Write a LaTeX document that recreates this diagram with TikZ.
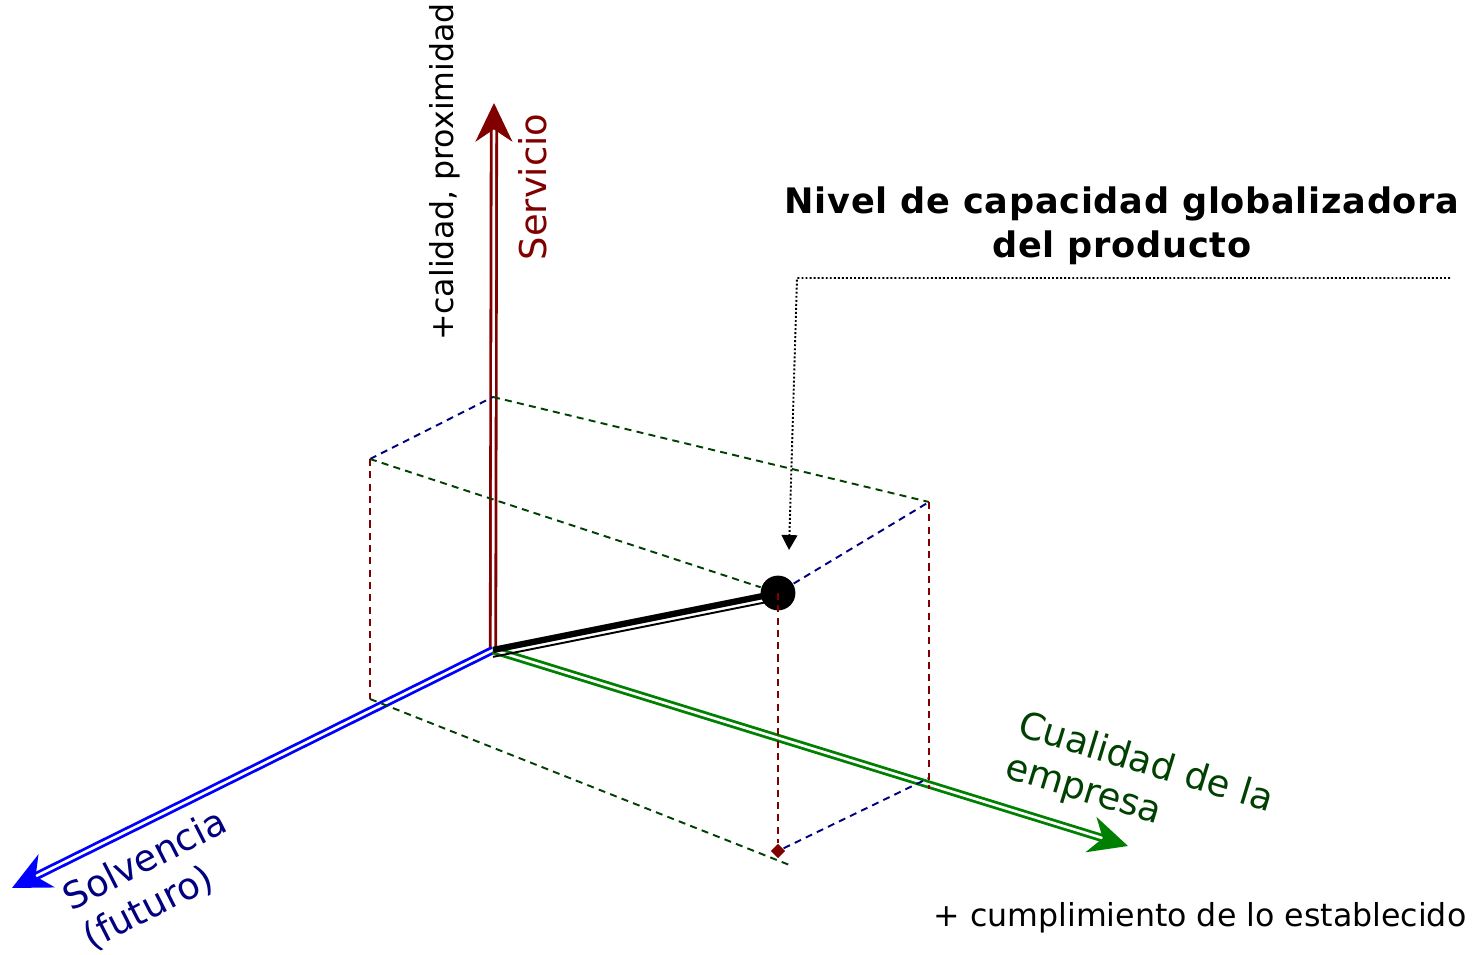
\documentclass[tikz,border=0pt]{standalone}
\usepackage{fontspec}
\setmainfont{DejaVu Sans}
\usepackage{tikz}
\usetikzlibrary{shapes, arrows.meta, positioning, calc}

\definecolor{ejerojo}{HTML}{800000}
\definecolor{ejeazul}{HTML}{0000FF}
\definecolor{ejeverde}{HTML}{008000}
\definecolor{marino}{HTML}{000080}
\definecolor{verdeosc}{HTML}{004000}

\begin{document}
\begin{tikzpicture} [x = 0.02cm, y = -0.02cm, line width = 1pt,
  eje/.style = {double = white, double distance = 1.5pt, line width = 1.6pt, -{Stealth[length = 22pt, width = 21pt, inset = 7pt]}},
  caja/.style = {dash pattern = on 4pt off 3pt, line width = 1.1pt},
  rotulo/.style = {font = \fontsize{21}{25}\selectfont, inner sep = 0pt},
  nota/.style = {dash pattern = on 1.1pt off 1.2pt, line width = 1.1pt, -{Triangle[length = 8.5pt, width = 9pt]}}]

\useasboundingbox (0,0) rectangle (1481,955);

\coordinate (o) at (493,650);
\coordinate (stop) at (494,103);
\coordinate (btip) at (12,888);
\coordinate (gtip) at (1128,846);

\coordinate (tb) at (493,397);
\coordinate (tl) at (370,459);
\coordinate (tr) at (929,502);
\coordinate (bl) at (370,699);
\coordinate (br) at (929,789);
\coordinate (brn) at (929,778);
\coordinate (bfe) at (792,866);
\coordinate (p) at (778,593);

\path (o) edge [eje, draw = ejerojo] (stop);
\path (o) edge [eje, draw = ejeazul] (btip);
\path (o) edge [eje, draw = ejeverde] (gtip);

\draw [line width = 3.6pt] (o) -- (p);
\draw [line width = 1.1pt, transform canvas = {yshift = -3.9pt}] (o) -- (p);

\node [circle, fill, inner sep = 0pt, minimum size = 19.8pt] (punto) at (p) {};
\node [diamond, fill = ejerojo, inner sep = 0pt, minimum size = 8.5pt] (pie) at (778,851) {};

\draw [caja, marino] (tl) -- (tb);
\draw [caja, marino] (punto) -- (tr);
\draw [caja, marino] (pie) -- (brn);
\draw [caja, verdeosc] (tb) -- (tr);
\draw [caja, verdeosc] (tl) -- (punto);
\draw [caja, verdeosc] (bl) -- (bfe);
\draw [caja, ejerojo] (tl) -- (bl);
\draw [caja, ejerojo] (tr) -- (br);
\draw [caja, ejerojo] (p) -- (pie);

\node [rotulo, font = \fontsize{18}{22}\selectfont, rotate = 90] (calidad) at (445,172) {+calidad, proximidad};
\node [rotulo, text = ejerojo, rotate = 90] (servicio) at (533,187) {Servicio};
\node [rotulo, font = \fontsize{20}{25}\bfseries\addfontfeatures{LetterSpace = 2}, align = center] (titulo) at (1122,226) {Nivel de capacidad globalizadora\\del producto};
\node [rotulo, font = \fontsize{18}{22}\selectfont] (cumplimiento) at (1200,918) {+ cumplimiento de lo establecido};
\node [rotulo, text = verdeosc, rotate = -17, align = left] (cualidad) at (1139,785) {Cualidad de la\\empresa};
\node [rotulo, text = marino, rotate = 27, align = left] (solvencia) at (155,880) {Solvencia\\(futuro)};

\coordinate (ne) at (1450,278);
\coordinate (codo) at (797,278);
\coordinate (flecha) at (789,550);
\draw [nota] (ne) -- (codo) -- (flecha);

\end{tikzpicture}
\end{document}
